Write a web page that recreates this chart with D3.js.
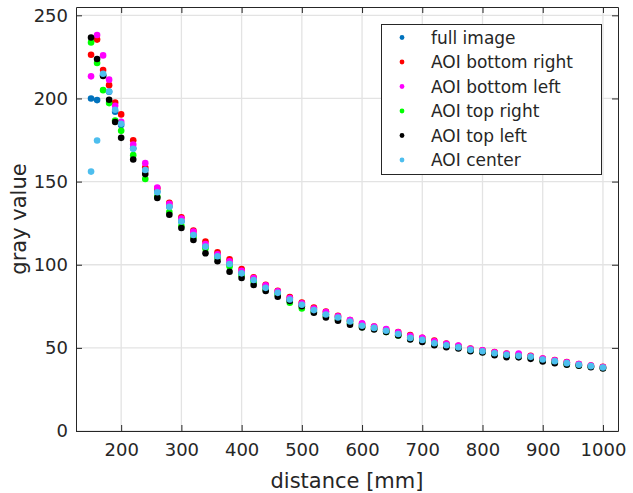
<!DOCTYPE html>
<html>
<head>
<meta charset="utf-8">
<script src="https://cdn.jsdelivr.net/npm/d3@7"></script>
<style>
  body { margin: 0; background: #fff; }
  text { font-family: "DejaVu Sans", sans-serif; fill: #262626; }
</style>
</head>
<body>
<div id="chart"></div>
<script>
const distances = [150, 160, 170, 180, 190, 200, 220, 240, 260, 280, 300, 320, 340, 360, 380, 400,
  420, 440, 460, 480, 500, 520, 540, 560, 580, 600, 620, 640, 660, 680, 700, 720, 740, 760, 780,
  800, 820, 840, 860, 880, 900, 920, 940, 960, 980, 1000]

const fullImage = [200, 199, 214, 204, 192, 184, 170, 157, 144, 135, 126, 118, 111, 105, 100.5, 95,
  91, 86.3, 83, 79, 76, 72.8, 70.2, 68.2, 66, 63.5, 62, 60.3, 58.3, 56.2, 54.8, 52.8, 51.5, 50.4, 48.9,
  48, 46.9, 45.8, 45.2, 44.5, 43, 42, 40.9, 39.8, 39, 38.2]
const bottomRight = [226.3, 235.4, 217.1, 208, 197.6, 190.4, 174.9, 158.4, 146, 137.3, 128.5, 120.5,
  113.9, 107.5, 103.3, 97.4, 92.4, 88, 84.3, 80.5, 77.3, 74.3, 71.8, 69.3, 66.7, 64.5, 62.8, 61, 59.5,
  57.7, 56, 54.4, 52.6, 51.3, 49.6, 48.6, 47.5, 46.6, 46, 45.2, 43.6, 42.6, 41.4, 40.3, 39.4, 38.6]
const bottomLeft = [213.3, 238.2, 225.9, 211.3, 195.6, 186, 172.3, 161.1, 146.4, 136.6, 127.7, 119.9,
  112.5, 106.3, 102, 96.3, 92, 87.6, 84, 79.9, 76.8, 73.7, 71.5, 69, 66.7, 64.7, 62.8, 61.3, 59.3,
  57.3, 56, 54, 52.4, 51.4, 49.5, 48.5, 47.4, 46.4, 46.6, 45, 43.5, 42.5, 41.3, 40.3, 39.3, 38.5]
const topRight = [233.7, 221.3, 205, 197.2, 186.7, 180.5, 165.9, 151.6, 141, 131.7, 123.3, 116.5,
  109.7, 104, 99, 93.5, 89.8, 85, 82, 77.1, 73.7, 71.6, 69.2, 67, 64.8, 62.5, 61.3, 59.5, 57.5, 55.4,
  54.2, 52, 50.9, 50, 48.3, 47.5, 46.3, 45.3, 44.8, 44, 42.4, 41.4, 40.2, 39.4, 38.6, 37.9]
const topLeft = [236.7, 223.7, 213.5, 199.2, 185.8, 176.3, 163.3, 154.5, 140.2, 130.1, 122.1, 114.9,
  106.9, 102.1, 95.8, 92, 87.8, 84.2, 80.7, 78.2, 75, 71.1, 68.3, 66.3, 63.9, 62.3, 61.1, 59.5, 57.5,
  55.1, 53.6, 51.6, 50.4, 49.6, 48, 47.2, 45.6, 44.4, 44.3, 43.4, 41.8, 40.8, 39.8, 39.2, 38.4, 37.6]
const center = [156, 174.7, 214.9, 204.2, 193.2, 184.8, 169.7, 157, 143.6, 134.8, 126.1, 117.9,
  110.9, 105.1, 100.4, 94.8, 90.8, 86.1, 83.1, 79.1, 75.9, 72.7, 70.1, 68.3, 65.9, 63.3, 62, 60.3,
  58.3, 56, 54.8, 52.8, 51.6, 50.4, 48.8, 48, 46.8, 45.8, 45.2, 44.6, 43, 42, 40.8, 39.8, 39, 38.2]

const seriesNames = ["full image", "AOI bottom right", "AOI bottom left", "AOI top right", "AOI top left", "AOI center"]
const seriesValues = [fullImage, bottomRight, bottomLeft, topRight, topLeft, center]
const seriesColors = ["#0072bd", "#ff0000", "#ff00ff", "#00ff00", "#000000", "#4dbeee"]

const xTicks = [200, 300, 400, 500, 600, 700, 800, 900, 1000]
const yTicks = [0, 50, 100, 150, 200, 250]

const width = 633
const height = 493
const margin = { top: 7, right: 15, bottom: 62, left: 76 }

const svg = d3.select("#chart")
  .append("svg")
  .attr("width", width)
  .attr("height", height)

const x = d3.scaleLinear()
  .domain([125, 1025])
  .range([margin.left, width - margin.right])

const y = d3.scaleLinear()
  .domain([0, 255])
  .range([height - margin.bottom, margin.top])

// grid
svg.append("g")
  .attr("stroke", "#e3e3e3")
  .attr("stroke-width", 1.3)
  .selectAll("line.gx")
  .data(xTicks)
  .join("line")
  .attr("x1", d => x(d)).attr("x2", d => x(d))
  .attr("y1", y(255)).attr("y2", y(0))

svg.append("g")
  .attr("stroke", "#e3e3e3")
  .attr("stroke-width", 1.3)
  .selectAll("line.gy")
  .data(yTicks)
  .join("line")
  .attr("x1", x(125)).attr("x2", x(1025))
  .attr("y1", d => y(d)).attr("y2", d => y(d))

// axes
const xAxis = svg.append("g")
  .attr("transform", `translate(0,${y(0)})`)
  .call(d3.axisBottom(x).tickValues(xTicks).tickFormat(d3.format("d"))
    .tickSizeInner(-6).tickSizeOuter(0).tickPadding(12))
xAxis.selectAll("text").style("font-size", "18px")

const yAxis = svg.append("g")
  .attr("transform", `translate(${x(125)},0)`)
  .call(d3.axisLeft(y).tickValues(yTicks).tickSizeInner(-6).tickSizeOuter(0).tickPadding(8))
yAxis.selectAll("text").style("font-size", "18px")

svg.append("g")
  .attr("transform", `translate(0,${y(255)})`)
  .call(d3.axisTop(x).tickValues(xTicks).tickSizeInner(-6).tickSizeOuter(0).tickFormat(""))

svg.append("g")
  .attr("transform", `translate(${x(1025)},0)`)
  .call(d3.axisRight(y).tickValues(yTicks).tickSizeInner(-6).tickSizeOuter(0).tickFormat(""))

svg.selectAll(".domain, .tick line").attr("stroke", "#262626")

// points
seriesValues.forEach((vals, s) => {
  svg.append("g")
    .attr("fill", seriesColors[s])
    .selectAll("circle")
    .data(vals)
    .join("circle")
    .attr("cx", (d, i) => x(distances[i]))
    .attr("cy", d => y(d))
    .attr("r", 3.3)
})

// axis labels
svg.append("text")
  .attr("x", (x(125) + x(1025)) / 2)
  .attr("y", 488)
  .attr("text-anchor", "middle")
  .style("font-size", "21px")
  .text("distance [mm]")

svg.append("text")
  .attr("transform", `translate(26,${(y(0) + y(255)) / 2}) rotate(-90)`)
  .attr("text-anchor", "middle")
  .style("font-size", "21px")
  .text("gray value")

// legend
const legend = svg.append("g")
legend.append("rect")
  .attr("x", 381.5).attr("y", 24.5)
  .attr("width", 220).attr("height", 150)
  .attr("fill", "#fff")
  .attr("stroke", "#262626")

const rows = legend.selectAll("g.row")
  .data(seriesNames)
  .join("g")
  .attr("transform", (d, i) => `translate(0,${37.5 + i * 24.5})`)

rows.append("circle")
  .attr("cx", 402).attr("cy", 0).attr("r", 2.4)
  .attr("fill", (d, i) => seriesColors[i])

rows.append("text")
  .attr("x", 431).attr("y", 6)
  .style("font-size", "17px")
  .text(d => d)
</script>
</body>
</html>
